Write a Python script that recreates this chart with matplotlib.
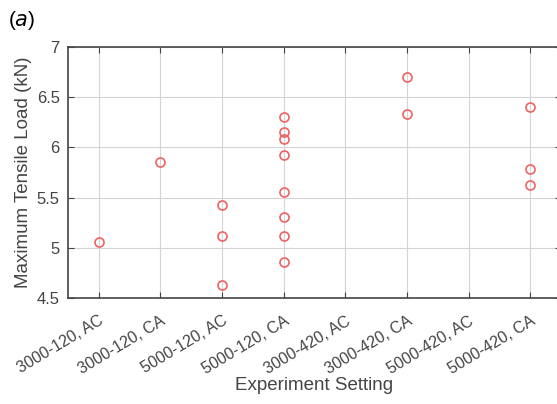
import numpy as np
import matplotlib.pyplot as plt

plt.rcParams['font.family'] = ['Liberation Sans', 'DejaVu Sans']

settings = ['3000-120, AC', '3000-120, CA', '5000-120, AC', '5000-120, CA',
            '3000-420, AC', '3000-420, CA', '5000-420, AC', '5000-420, CA']

# measured loads (kN) per setting
loads = {
    '3000-120, AC': [5.06],
    '3000-120, CA': [5.85],
    '5000-120, AC': [5.43, 5.12, 4.63],
    '5000-120, CA': [6.30, 6.15, 6.08, 5.92, 5.56, 5.31, 5.12, 4.86],
    '3000-420, AC': [],
    '3000-420, CA': [6.70, 6.33],
    '5000-420, AC': [],
    '5000-420, CA': [6.40, 5.78, 5.63],
}

fig = plt.figure(figsize=(5.57, 4.04), dpi=100)
ax = fig.add_axes([68/557, 106/404, 493/557, 251/404])

for i, s in enumerate(settings):
    y = loads[s]
    ax.plot([i + 1] * len(y), y, 'o', mfc='none', mec='#f06262',
            ms=6.5, mew=1.2, linestyle='none')

ax.set_xlim(0.5, 8.5)
ax.set_ylim(4.5, 7)
ax.set_xticks(np.arange(1, 9))
ax.set_xticklabels(settings, rotation=31, ha='right', rotation_mode='anchor')
ax.set_yticks([4.5, 5, 5.5, 6, 6.5, 7])
ax.set_yticklabels(['4.5', '5', '5.5', '6', '6.5', '7'])
ax.grid(color='#d4d4d4', linewidth=0.8)
ax.set_axisbelow(True)
ax.tick_params(direction='in', top=True, right=True, length=4,
               color='#444444', labelcolor='#444444', labelsize=12)
ax.tick_params(axis='x', pad=11, labelsize=11.5)
ax.tick_params(axis='y', pad=6)
for sp in ax.spines.values():
    sp.set_color('#444444')
    sp.set_linewidth(1.2)

ax.set_xlabel('Experiment Setting', fontsize=13.5, color='#444444', labelpad=0)
ax.set_ylabel('Maximum Tensile Load (kN)', fontsize=13.5, color='#444444', labelpad=3)
fig.text(8/557, 1 - 20/404, '($a$)', fontsize=15, va='center', ha='left')

fig.savefig('out.png', dpi=100)
